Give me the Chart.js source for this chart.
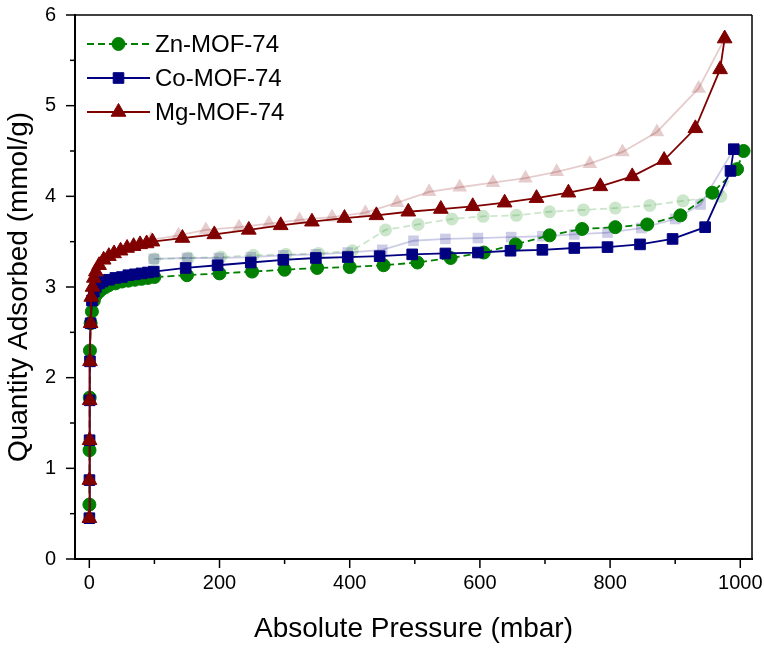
<!DOCTYPE html>
<html>
<head>
<meta charset="utf-8">
<script src="https://cdn.jsdelivr.net/npm/chart.js@4.4.1/dist/chart.umd.min.js"></script>
<style>
  html, body { margin: 0; padding: 0; background: #fff; }
</style>
</head>
<body>
<canvas id="c" width="764" height="648"></canvas>
<script>
// CO2 isotherms, pressure in mbar, uptake in mmol/g
const znAdsP = [0.1, 0.3, 0.6, 1, 2, 4, 7, 10, 15, 20, 25, 30, 40, 50, 60, 70, 80, 90, 100, 150, 200, 250, 300, 350, 400, 452, 504, 555, 606, 655, 707, 757, 808, 857, 908, 957, 995, 1005];
const znAdsQ = [0.60, 1.20, 1.78, 2.30, 2.60, 2.73, 2.85, 2.91, 2.95, 2.98, 3.00, 3.02, 3.04, 3.06, 3.07, 3.08, 3.09, 3.10, 3.11, 3.13, 3.15, 3.17, 3.19, 3.21, 3.22, 3.24, 3.27, 3.32, 3.38, 3.47, 3.57, 3.64, 3.66, 3.69, 3.79, 4.04, 4.30, 4.50];
const znDesP = [1005, 970, 912, 861, 808, 759, 707, 656, 605, 557, 505, 455, 404, 352, 302, 252, 202, 152, 100];
const znDesQ = [4.50, 4.00, 3.95, 3.90, 3.87, 3.85, 3.83, 3.79, 3.78, 3.75, 3.69, 3.63, 3.40, 3.37, 3.36, 3.35, 3.33, 3.32, 3.31];

const coAdsP = [0.1, 0.2, 0.4, 0.6, 1, 2, 4, 7, 10, 15, 20, 30, 40, 50, 60, 70, 80, 90, 99, 148, 197, 248, 298, 348, 397, 446, 496, 547, 597, 647, 696, 745, 796, 846, 896, 946, 985, 990];
const coAdsQ = [0.45, 0.87, 1.31, 1.75, 2.18, 2.60, 2.85, 2.95, 3.00, 3.04, 3.06, 3.08, 3.10, 3.11, 3.13, 3.14, 3.15, 3.16, 3.17, 3.21, 3.24, 3.27, 3.30, 3.32, 3.33, 3.34, 3.36, 3.37, 3.38, 3.40, 3.41, 3.43, 3.44, 3.47, 3.53, 3.66, 4.28, 4.52];
const coDesP = [990, 939, 900, 848, 796, 745, 696, 648, 597, 547, 498, 450, 397, 348, 298, 248, 199, 150, 99];
const coDesQ = [4.52, 3.91, 3.75, 3.65, 3.60, 3.58, 3.56, 3.55, 3.54, 3.53, 3.51, 3.41, 3.38, 3.36, 3.35, 3.33, 3.32, 3.32, 3.31];

const mgAdsP = [0.1, 0.2, 0.4, 0.6, 1, 2, 3, 5, 7, 10, 15, 22, 30, 38, 48, 58, 68, 78, 88, 97, 143, 192, 245, 294, 342, 392, 441, 490, 540, 589, 638, 687, 736, 785, 834, 883, 931, 969, 976];
const mgAdsQ = [0.45, 0.87, 1.31, 1.75, 2.18, 2.60, 2.89, 3.00, 3.10, 3.17, 3.24, 3.30, 3.34, 3.37, 3.40, 3.43, 3.45, 3.47, 3.48, 3.50, 3.54, 3.58, 3.63, 3.68, 3.72, 3.76, 3.79, 3.83, 3.86, 3.89, 3.93, 3.98, 4.04, 4.11, 4.22, 4.40, 4.75, 5.40, 5.74];
const mgDesP = [976, 936, 872, 819, 769, 718, 670, 620, 569, 522, 473, 424, 373, 323, 276, 230, 179, 137, 95];
const mgDesQ = [5.74, 5.19, 4.71, 4.49, 4.36, 4.27, 4.20, 4.15, 4.10, 4.05, 3.93, 3.82, 3.77, 3.74, 3.70, 3.66, 3.63, 3.57, 3.52];

const xMajorTicks = [0, 200, 400, 600, 800, 1000];
const xMinorTicks = [100, 300, 500, 700, 900];
const yMajorTicks = [0, 1, 2, 3, 4, 5, 6];
const yMinorTicks = [0.5, 1.5, 2.5, 3.5, 4.5, 5.5];

const FONT = "'Liberation Sans', Arial, sans-serif";

const pts = (xs, ys) => xs.map((x, i) => ({ x: x, y: ys[i] }));

// one entry per sample: colour, faint colour, marker
const series = [
  { name: 'Zn-MOF-74', color: '#008000', faint: 'rgba(0,128,0,0.2)', style: 'circle', radius: 6.5, dash: [7, 4], ads: pts(znAdsP, znAdsQ), des: pts(znDesP, znDesQ), order: 2 },
  { name: 'Co-MOF-74', color: '#000080', faint: 'rgba(0,0,128,0.2)', style: 'rect', radius: 7.5, dash: [], ads: pts(coAdsP, coAdsQ), des: pts(coDesP, coDesQ), order: 1 },
  { name: 'Mg-MOF-74', color: '#800000', faint: 'rgba(128,0,0,0.2)', style: 'triangle', radius: 8.5, dash: [], ads: pts(mgAdsP, mgAdsQ), des: pts(mgDesP, mgDesQ), order: 0 }
];

const datasets = [];
series.forEach(s => {
  // desorption branch, pale, kept behind everything
  datasets.push({
    label: s.name + ' des',
    data: s.des,
    borderColor: s.faint,
    backgroundColor: s.faint,
    borderWidth: 1.8,
    borderDash: s.dash,
    pointStyle: s.style,
    pointRadius: s.radius,
    pointBackgroundColor: s.faint,
    pointBorderColor: 'rgba(0,0,0,0)',
    pointBorderWidth: 0,
    tension: 0,
    order: s.order + 3
  });
  datasets.push({
    label: s.name,
    data: s.ads,
    borderColor: s.color,
    backgroundColor: s.color,
    borderWidth: 1.8,
    borderDash: s.dash,
    pointStyle: s.style,
    pointRadius: s.radius,
    pointBackgroundColor: s.color,
    pointBorderColor: s.color,
    pointBorderWidth: 1,
    tension: 0,
    order: s.order
  });
});

// box around the plot plus outward ticks
const framePlugin = {
  id: 'frame',
  afterDraw(chart) {
    const { ctx, chartArea: a, scales: { x, y } } = chart;
    ctx.save();
    ctx.strokeStyle = '#000';
    ctx.lineCap = 'butt';
    const seg = (x1, y1, x2, y2, w) => {
      ctx.lineWidth = w;
      ctx.beginPath();
      ctx.moveTo(x1, y1);
      ctx.lineTo(x2, y2);
      ctx.stroke();
    };
    seg(a.left, a.top, a.right, a.top, 1.5);
    seg(a.right, a.top, a.right, a.bottom, 1.5);
    seg(a.left, a.top - 1, a.left, a.bottom + 1, 2);
    seg(a.left - 1, a.bottom, a.right + 1, a.bottom, 2);
    xMajorTicks.forEach(v => { const p = x.getPixelForValue(v); seg(p, a.bottom, p, a.bottom + 9, 1.5); });
    xMinorTicks.forEach(v => { const p = x.getPixelForValue(v); seg(p, a.bottom, p, a.bottom + 5, 1.5); });
    yMajorTicks.forEach(v => { const p = y.getPixelForValue(v); seg(a.left, p, a.left - 9, p, 1.5); });
    yMinorTicks.forEach(v => { const p = y.getPixelForValue(v); seg(a.left, p, a.left - 5, p, 1.5); });
    ctx.restore();
  }
};

// legend: line with marker in the middle, then the label
const legendPlugin = {
  id: 'lineLegend',
  afterDraw(chart) {
    const ctx = chart.ctx;
    const x0 = 87, x1 = 150, tx = 155;
    const rows = [44, 78, 112];
    ctx.save();
    series.forEach((s, i) => {
      const yy = rows[i];
      ctx.strokeStyle = s.color;
      ctx.lineWidth = 1.8;
      ctx.setLineDash(s.dash);
      ctx.beginPath();
      ctx.moveTo(x0, yy);
      ctx.lineTo(x1, yy);
      ctx.stroke();
      ctx.setLineDash([]);
      ctx.fillStyle = s.color;
      ctx.strokeStyle = s.color;
      ctx.lineWidth = 1;
      Chart.helpers.drawPoint(ctx, { pointStyle: s.style, radius: s.radius, rotation: 0, borderWidth: 1 }, (x0 + x1) / 2, yy);
      ctx.fillStyle = '#000';
      ctx.font = '24px ' + FONT;
      ctx.textBaseline = 'middle';
      ctx.textAlign = 'left';
      ctx.fillText(s.name, tx, yy + 1);
    });
    ctx.restore();
  }
};

new Chart(document.getElementById('c'), {
  type: 'line',
  data: { datasets: datasets },
  options: {
    responsive: false,
    animation: false,
    devicePixelRatio: 1,
    layout: { padding: { top: 15, right: 12, left: 0, bottom: 0 } },
    plugins: { legend: { display: false }, tooltip: { enabled: false } },
    scales: {
      x: {
        type: 'linear',
        min: -22,
        max: 1018,
        afterBuildTicks: s => { s.ticks = xMajorTicks.map(v => ({ value: v })); },
        afterFit: s => { s.height = 89; s.paddingLeft = 0; s.paddingRight = 0; },
        grid: { display: false, drawTicks: false, tickLength: 0 },
        border: { display: false },
        ticks: { color: '#000', font: { family: FONT, size: 20 }, padding: 12, maxRotation: 0, callback: v => String(v) },
        title: { display: true, text: 'Absolute Pressure (mbar)', color: '#000', font: { family: FONT, size: 28 }, padding: { top: 0, bottom: 2 } }
      },
      y: {
        type: 'linear',
        min: 0,
        max: 6,
        afterBuildTicks: s => { s.ticks = yMajorTicks.map(v => ({ value: v })); },
        afterFit: s => { s.width = 75; s.paddingTop = 0; s.paddingBottom = 0; },
        grid: { display: false, drawTicks: false, tickLength: 0 },
        border: { display: false },
        ticks: { color: '#000', font: { family: FONT, size: 20 }, padding: 19, callback: v => String(v) },
        title: { display: true, text: 'Quantity Adsorbed (mmol/g)', color: '#000', font: { family: FONT, size: 28 }, padding: { top: 2, bottom: 0 } }
      }
    }
  },
  plugins: [framePlugin, legendPlugin]
});
</script>
</body>
</html>
